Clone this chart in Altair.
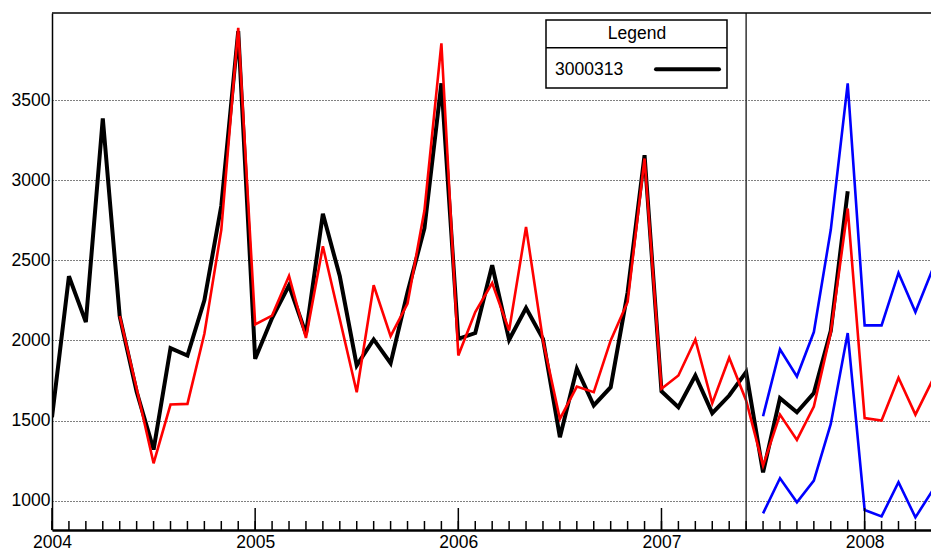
import altair as alt
import pandas as pd

# month index 0 = Jan 2004
black_vals = [1520, 2400, 2114, 3385, 2150, 1680, 1319, 1952, 1906, 2250, 2840, 3930,
              1885, 2140, 2344, 2040, 2790, 2400, 1844, 2006, 1858, 2300, 2700, 3604,
              2010, 2046, 2469, 2004, 2202, 2010, 1396, 1823, 1594, 1708, 2300, 3156,
              1683, 1583, 1781, 1546, 1656, 1802, 1177, 1640, 1552, 1671, 2060, 2931]
black_start = 0

red_vals = [2152, 1700, 1233, 1600, 1604, 2042, 2690, 3950,
            2100, 2155, 2402, 2015, 2587, 2132, 1677, 2344, 2027, 2230, 2812, 3854,
            1906, 2177, 2358, 2062, 2708, 2000, 1510, 1712, 1677, 2000, 2240, 3135,
            1698, 1781, 2006, 1608, 1892, 1625, 1219, 1537, 1379, 1587, 2050, 2823,
            1515, 1500, 1767, 1537, 1750, 1770]
red_start = 4

upper_vals = [1527, 1944, 1775, 2052, 2690, 3604, 2094, 2094, 2421, 2177, 2440, 2480]
lower_vals = [921, 1140, 990, 1125, 1479, 2046, 942, 902, 1115, 896, 1062, 1070]
band_start = 42

split_month = 41
year_ticks = [0, 12, 24, 36, 48]
month_ticks = list(range(0, 52))
y_grid = [1000, 1500, 2000, 2500, 3000, 3500]
legend_title = "Legend"
legend_label = "3000313"

FONT = "Liberation Sans"
FS = 17.5
W, H = 879, 517

def frame(vals, start):
    return pd.DataFrame({"m": list(range(start, start + len(vals))), "v": vals})

xs = alt.Scale(domain=[0, W / 16.93], nice=False)
ys = alt.Scale(domain=[817, 4043], nice=False, zero=False)

x_axis = alt.Axis(values=year_ticks, labelExpr="'' + (2004 + datum.value / 12)",
                  ticks=False, domain=True, domainColor="black", domainWidth=2.5,
                  labelFont=FONT, labelFontSize=FS, labelColor="black",
                  labelPadding=3, labelFlush=False, grid=False, title=None)
y_axis = alt.Axis(values=y_grid, format="d", grid=True, gridDash=[1, 2], gridColor="black",
                  gridWidth=1, gridOpacity=1, ticks=False, domain=True,
                  domainColor="black", domainWidth=1.5, labelFont=FONT,
                  labelFontSize=FS, labelColor="black", labelPadding=2, title=None)

def X():
    return alt.X("m:Q", scale=xs, axis=x_axis)

def Y():
    return alt.Y("v:Q", scale=ys, axis=y_axis)

def series(vals, start, color, width):
    return alt.Chart(frame(vals, start)).mark_line(
        color=color, strokeWidth=width, clip=True).encode(x=X(), y=Y())

black = series(black_vals, black_start, "black", 4)
red = series(red_vals, red_start, "#ff0000", 2.6)
upper = series(upper_vals, band_start, "#0000ff", 2.6)
lower = series(lower_vals, band_start, "#0000ff", 2.6)

split = alt.Chart(pd.DataFrame({"m": [split_month]})).mark_rule(
    color="#333333", strokeWidth=1.5).encode(x=X())

major = alt.Chart(pd.DataFrame({"m": year_ticks})).mark_rule(
    color="black", strokeWidth=1.5).encode(x=X(), y=alt.value(H - 22), y2=alt.value(H))
minor = alt.Chart(pd.DataFrame({"m": month_ticks})).mark_rule(
    color="black", strokeWidth=1.5).encode(x=X(), y=alt.value(H - 9), y2=alt.value(H))

one = pd.DataFrame({"a": [0]})
top_border = alt.Chart(one).mark_rule(color="black", strokeWidth=1.5).encode(
    x=alt.value(0), x2=alt.value(W), y=alt.value(0))
box = alt.Chart(one).mark_rect(fill="white", stroke="black", strokeWidth=1.5).encode(
    x=alt.value(494), x2=alt.value(675), y=alt.value(7), y2=alt.value(75))
divider = alt.Chart(one).mark_rule(color="black", strokeWidth=1.5).encode(
    x=alt.value(494), x2=alt.value(675), y=alt.value(34.7))
t_title = alt.Chart(pd.DataFrame({"t": [legend_title]})).mark_text(
    font=FONT, fontSize=FS, align="center", baseline="middle", color="black").encode(
    x=alt.value(585), y=alt.value(20.5), text="t:N")
t_label = alt.Chart(pd.DataFrame({"t": [legend_label]})).mark_text(
    font=FONT, fontSize=FS, align="left", baseline="middle", color="black").encode(
    x=alt.value(503), y=alt.value(56.5), text="t:N")
sample = alt.Chart(one).mark_rule(color="black", strokeWidth=4, strokeCap="round").encode(
    x=alt.value(604), x2=alt.value(667), y=alt.value(56.3))

chart = alt.layer(black, red, upper, lower, split, major, minor, top_border,
                  box, divider, t_title, t_label, sample).properties(
    width=W, height=H,
    autosize=alt.AutoSizeParams(type="none"),
    padding={"left": 44, "top": 5, "right": 0, "bottom": 22},
    background="white",
).configure_view(stroke=None)

chart.save("out.html", embed_options={"renderer": "svg", "actions": False})
